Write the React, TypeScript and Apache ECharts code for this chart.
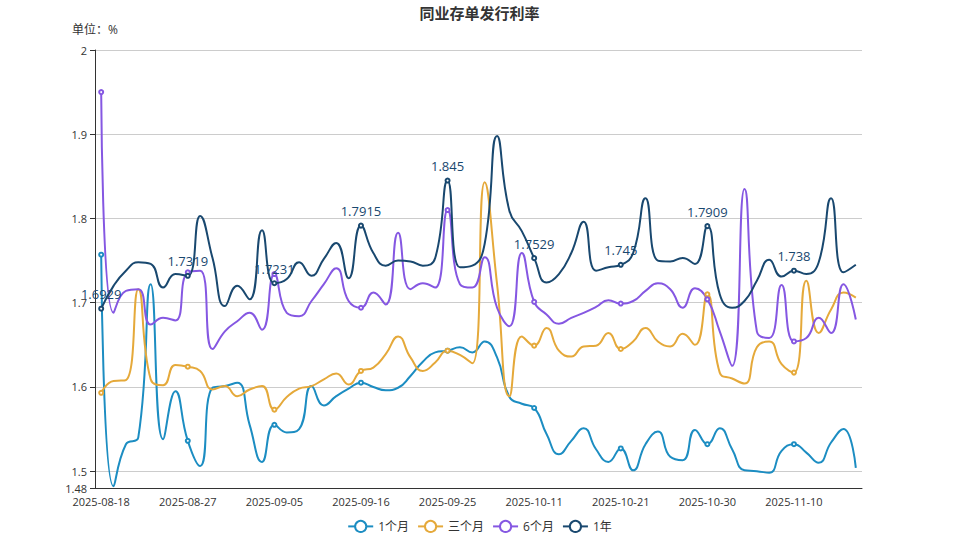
import React, { useEffect, useRef } from "react";
import * as echarts from "echarts";

const dates = [
  "2025-08-18","2025-08-19","2025-08-20","2025-08-21","2025-08-22","2025-08-25","2025-08-26","2025-08-27","2025-08-28","2025-08-29",
  "2025-09-01","2025-09-02","2025-09-03","2025-09-04","2025-09-05","2025-09-08","2025-09-09","2025-09-10","2025-09-11","2025-09-12",
  "2025-09-15","2025-09-16","2025-09-17","2025-09-18","2025-09-19","2025-09-22","2025-09-23","2025-09-24","2025-09-25","2025-09-26",
  "2025-09-28","2025-09-29","2025-09-30","2025-10-09","2025-10-10","2025-10-11","2025-10-13","2025-10-14","2025-10-15","2025-10-16",
  "2025-10-17","2025-10-20","2025-10-21","2025-10-22","2025-10-23","2025-10-24","2025-10-27","2025-10-28","2025-10-29","2025-10-30",
  "2025-10-31","2025-11-03","2025-11-04","2025-11-05","2025-11-06","2025-11-07","2025-11-10","2025-11-11","2025-11-12","2025-11-13",
  "2025-11-14","2025-11-17"
];

const oneMonth = [
  1.757,1.482,1.532,1.540,1.722,1.538,1.595,1.536,1.506,1.599,
  1.601,1.605,1.555,1.511,1.555,1.546,1.550,1.601,1.578,1.589,
  1.598,1.605,1.600,1.596,1.599,1.613,1.630,1.641,1.643,1.647,
  1.641,1.654,1.635,1.588,1.580,1.575,1.544,1.520,1.536,1.551,
  1.526,1.511,1.527,1.501,1.532,1.547,1.517,1.513,1.549,1.532,
  1.551,1.526,1.501,1.500,1.498,1.524,1.532,1.522,1.510,1.534,
  1.550,1.504
];

const threeMonth = [
  1.593,1.607,1.608,1.716,1.609,1.602,1.626,1.624,1.619,1.597,
  1.601,1.589,1.597,1.601,1.573,1.588,1.598,1.601,1.609,1.616,
  1.603,1.619,1.623,1.639,1.660,1.635,1.619,1.629,1.643,1.638,
  1.628,1.843,1.722,1.589,1.660,1.649,1.670,1.643,1.636,1.648,
  1.649,1.664,1.645,1.654,1.670,1.654,1.648,1.663,1.650,1.710,
  1.617,1.610,1.604,1.647,1.654,1.627,1.617,1.726,1.664,1.692,
  1.712,1.706
];

const sixMonth = [
  1.950,1.688,1.714,1.716,1.674,1.682,1.679,1.736,1.738,1.645,
  1.666,1.678,1.688,1.668,1.734,1.688,1.684,1.702,1.722,1.741,
  1.702,1.694,1.712,1.698,1.783,1.716,1.723,1.718,1.810,1.722,
  1.718,1.754,1.694,1.672,1.759,1.701,1.686,1.675,1.682,1.688,
  1.695,1.703,1.699,1.702,1.714,1.723,1.716,1.694,1.717,1.704,
  1.666,1.625,1.835,1.666,1.658,1.721,1.654,1.658,1.682,1.664,
  1.722,1.680
];

const oneYear = [
  1.6929,1.720,1.738,1.748,1.746,1.718,1.734,1.7319,1.803,1.753,
  1.696,1.720,1.704,1.786,1.7231,1.728,1.748,1.732,1.752,1.771,
  1.729,1.7915,1.759,1.744,1.750,1.749,1.744,1.753,1.845,1.742,
  1.744,1.770,1.898,1.809,1.785,1.7529,1.724,1.734,1.759,1.796,
  1.738,1.742,1.745,1.759,1.824,1.750,1.749,1.753,1.746,1.7909,
  1.710,1.694,1.702,1.726,1.751,1.731,1.738,1.734,1.748,1.824,
  1.736,1.745
];

const seriesNames = ["1个月", "三个月", "6个月", "1年"];
const seriesColors = ["#1c8dc2", "#e5a93a", "#8557e2", "#19486f"];

export default function App() {
  const ref = useRef<HTMLDivElement>(null);
  useEffect(() => {
    if (!ref.current) return;
    const chart = echarts.init(ref.current, undefined, { renderer: "svg" });
    const datasets = [oneMonth, threeMonth, sixMonth, oneYear];
    chart.setOption({
      animation: false,
      color: seriesColors,
      textStyle: { fontFamily: "'Open Sans', 'Noto Sans CJK SC', sans-serif" },
      title: {
        text: "同业存单发行利率",
        left: "center",
        top: 0,
        textStyle: { fontSize: 15, fontWeight: "bold", color: "#333" },
      },
      legend: {
        bottom: 2,
        data: seriesNames,
        textStyle: { color: "#333", fontSize: 12 },
      },
      grid: { left: 95, right: 97, top: 50, bottom: 52, containLabel: false },
      xAxis: {
        type: "category",
        data: dates,
        boundaryGap: true,
        axisLine: { lineStyle: { color: "#333" } },
        axisLabel: { color: "#333", fontSize: 11 },
      },
      yAxis: {
        type: "value",
        name: "单位：%",
        nameTextStyle: { color: "#333", fontSize: 12 },
        min: 1.48,
        max: 2,
        axisLine: { show: true, lineStyle: { color: "#333" } },
        axisTick: { show: true },
        axisLabel: { color: "#333", fontSize: 11 },
        splitLine: { lineStyle: { color: "#ccc" } },
      },
      series: datasets.map((d, i) => ({
        name: seriesNames[i],
        type: "line",
        data: d,
        smooth: true,
        symbol: "emptyCircle",
        symbolSize: 4,
        showAllSymbol: false,
        itemStyle: { borderWidth: 1 },
        lineStyle: { width: 2 },
        label: i === 3
          ? { show: true, position: "top", color: seriesColors[3], fontSize: 13 }
          : { show: false },
      })),
    });
    return () => chart.dispose();
  }, []);
  return (
    <div
      ref={ref}
      style={{ position: "absolute", left: 0, top: 0, width: 959, height: 540 }}
    />
  );
}
